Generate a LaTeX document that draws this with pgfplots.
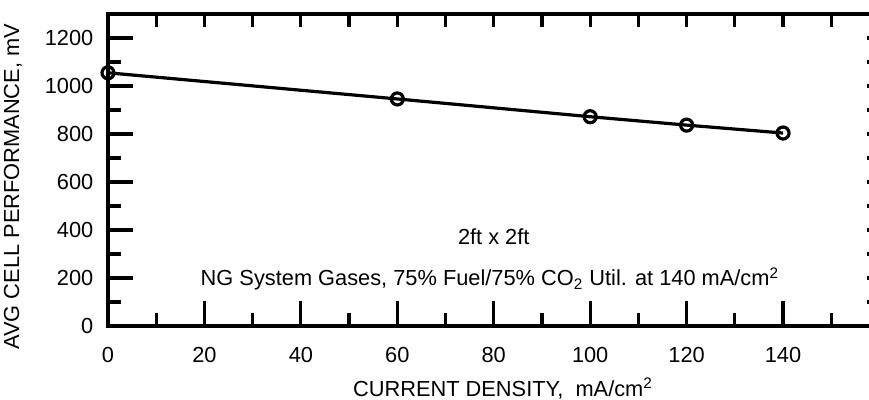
\documentclass[border=0pt]{standalone}
\usepackage{fontspec}
\setmainfont{Liberation Sans}
\usepackage{pgfplots}
\pgfplotsset{compat=1.18}

\begin{document}
\fontsize{10.9}{12}\selectfont
\begin{tikzpicture}
% page is 869 x 400 px at 0.5pt per px, axis corner at (0,0); right edge is cropped
\path[use as bounding box, clip] (-54pt,-37pt) rectangle (380.5pt,163pt);

\begin{axis}[
    at={(0,0)}, anchor=south west,
    scale only axis, width=385.75pt, height=156pt,
    xmin=0, xmax=160, ymin=0, ymax=1300,
    axis line style={line width=2pt},
    every tick/.style={black, line width=1.6pt},
    major tick length=12.5pt, minor tick length=6.5pt,
    tick align=inside,
    xtick={0,20,...,140}, minor xtick={10,30,...,150},
    ytick={0,200,...,1200}, minor ytick={100,300,...,1100},
    xtick pos=bottom, ytick pos=left,
    /pgf/number format/assume math mode=true,
    /pgf/number format/1000 sep={},
    ticklabel style={font=\fontsize{10.9}{12}\selectfont},
    xticklabel style={yshift=-7pt},
    yticklabel style={xshift=-3.5pt},
    xlabel={CURRENT DENSITY,\ \ mA/cm\textsuperscript{2}},
    ylabel={AVG CELL PERFORMANCE, mV},
    xlabel style={at={([yshift=-31.5pt]rel axis cs:0.512,0)}, anchor=center},
    ylabel style={at={([xshift=-47.5pt]rel axis cs:0,0.446)}, anchor=center},
    clip=false,
]
\addplot[black, line width=1.6pt, mark=o, mark size=3pt,
    mark options={line width=1.6pt}]
    coordinates {(0,1055) (60,946) (100,872) (120,837) (140,804)};

\node at (axis cs:80,371) {2ft x 2ft};
\node at (axis cs:79.2,196)
    {NG System Gases, 75\% Fuel/75\% CO\textsubscript{2} Util. at 140 mA/cm\textsuperscript{2}};
\end{axis}

% short ticks on top and right
\begin{axis}[
    at={(0,0)}, anchor=south west,
    scale only axis, width=385.75pt, height=156pt,
    xmin=0, xmax=160, ymin=0, ymax=1300,
    axis line style={line width=2pt},
    every tick/.style={black, line width=1.6pt},
    major tick length=6.5pt, tick align=inside,
    xtick={10,20,...,150}, ytick={100,200,...,1200},
    xtick pos=top, ytick pos=right,
    xticklabels={}, yticklabels={},
]
\end{axis}
\end{tikzpicture}
\end{document}
